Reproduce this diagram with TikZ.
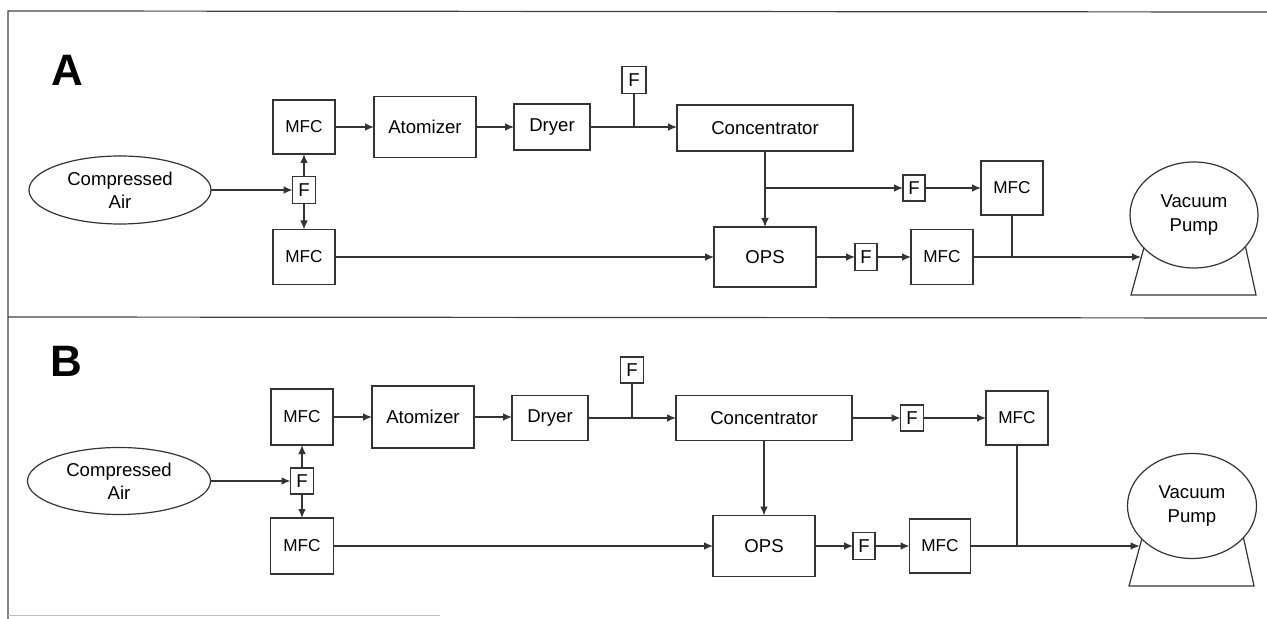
\documentclass[tikz,border=0pt]{standalone}
\usepackage{fontspec}
\setmainfont{Liberation Sans}
\usetikzlibrary{arrows.meta,shapes.geometric}
\begin{document}
\begin{tikzpicture}[x=0.5pt,y=-0.5pt,
  ln/.style={draw=black!80, line width=0.6pt},
  sz/.style 2 args={minimum width={#1*0.5pt}, minimum height={#2*0.5pt}},
  box/.style={ln, rectangle, inner sep=0pt, outer sep=0pt, fill=white, font=\fontsize{9.3}{11}\selectfont},
  mfcbox/.style={box, font=\fontsize{8.6}{10}\selectfont},
  oval/.style={ln, ellipse, inner sep=0pt, outer sep=0pt, fill=white, align=center, font=\fontsize{9.3}{11.6}\selectfont},
  arr/.style={ln, -{Latex[length=4.5pt,width=3.8pt]}},
  conn/.style={ln},
  panellabel/.style={inner sep=0pt, font=\fontsize{22}{22}\selectfont\bfseries},
  frameline/.style={draw=black!75, line width=0.6pt}]
\useasboundingbox (0,0) rectangle (1267,619);
% frame
\draw[frameline] (1267,12) -- (8,11) -- (8,619);
\draw[frameline] (8,317) -- (1267,318);
\draw[draw=black!25, line width=0.5pt] (8,615) -- (440,615);

% ---------------- Panel A ----------------
\node[panellabel] (labA) at (67,70) {A};
\node[oval, sz={182}{68}] (airA) at (120,190) {Compressed\\Air};
\node[box, sz={23}{27}] (fA1) at (304,190) {F};
\node[mfcbox, sz={62}{54}] (mfcA1) at (304,127) {MFC};
\node[mfcbox, sz={62}{55}] (mfcA2) at (304,257) {MFC};
\node[box, sz={102}{61}] (atomA) at (425,127) {Atomizer};
\node[box, sz={76}{46}] (dryerA) at (552,127) {Dryer};
\node[box, sz={24}{27}] (fA2) at (634,80) {F};
\node[box, sz={176}{46}] (concA) at (765,128) {Concentrator};
\node[box, sz={102}{60}] (opsA) at (765,257) {OPS};
\node[box, sz={22}{26}] (fA3) at (914,188) {F};
\node[mfcbox, sz={62}{54}] (mfcA3) at (1012,188) {MFC};
\node[box, sz={22}{27}] (fA4) at (866,257) {F};
\node[mfcbox, sz={62}{55}] (mfcA4) at (942,257) {MFC};
\draw[ln] (1146,240) -- (1131,295) -- (1256,295) -- (1244,240);
\node[oval, sz={128}{106}] (pumpA) at (1194,215) {Vacuum\\Pump};
\coordinate (jA1) at (634,127);
\coordinate (jA2) at (765,188);
\coordinate (jA3) at (1012,257);
\coordinate (pA) at (1141,257);

\draw[arr] (airA.east) -- (fA1.west);
\draw[arr] (fA1.north) -- (mfcA1.south);
\draw[arr] (fA1.south) -- (mfcA2.north);
\draw[arr] (mfcA1.east) -- (atomA.west);
\draw[arr] (atomA.east) -- (dryerA.west);
\draw[arr] (dryerA.east) -- (dryerA.east -| concA.west);
\draw[conn] (fA2.south) -- (jA1);
\draw[arr] (mfcA2.east) -- (opsA.west);
\draw[arr] (concA.south) -- (opsA.north);
\draw[arr] (jA2) -- (fA3.west);
\draw[arr] (fA3.east) -- (mfcA3.west);
\draw[arr] (opsA.east) -- (fA4.west);
\draw[arr] (fA4.east) -- (mfcA4.west);
\draw[arr] (mfcA4.east) -- (pA);
\draw[conn] (mfcA3.south) -- (jA3);

% ---------------- Panel B ----------------
\node[panellabel] (labB) at (66,361) {B};
\node[oval, sz={183}{67}] (airB) at (119,481) {Compressed\\Air};
\node[box, sz={23}{26}] (fB1) at (302,481) {F};
\node[mfcbox, sz={62}{56}] (mfcB1) at (302,417) {MFC};
\node[mfcbox, sz={63}{56}] (mfcB2) at (302,546) {MFC};
\node[box, sz={102}{62}] (atomB) at (423,417) {Atomizer};
\node[box, sz={76}{45}] (dryerB) at (550,418) {Dryer};
\node[box, sz={23}{26}] (fB2) at (632,370) {F};
\node[box, sz={176}{45}] (concB) at (764,418) {Concentrator};
\node[box, sz={102}{61}] (opsB) at (764,546) {OPS};
\node[box, sz={23}{26}] (fB3) at (912,418) {F};
\node[mfcbox, sz={62}{54}] (mfcB3) at (1017,418) {MFC};
\node[box, sz={22}{27}] (fB4) at (864,546) {F};
\node[mfcbox, sz={61}{54}] (mfcB4) at (940,546) {MFC};
\draw[ln] (1144,531) -- (1129,586) -- (1254,586) -- (1242,531);
\node[oval, sz={129}{105}] (pumpB) at (1192,506) {Vacuum\\Pump};
\coordinate (jB1) at (632,418);
\coordinate (jB3) at (1017,546);
\coordinate (pB) at (1139.6,546);

\draw[arr] (airB.east) -- (fB1.west);
\draw[arr] (fB1.north) -- (mfcB1.south);
\draw[arr] (fB1.south) -- (mfcB2.north);
\draw[arr] (mfcB1.east) -- (atomB.west);
\draw[arr] (atomB.east) -- (atomB.east -| dryerB.west);
\draw[arr] (dryerB.east) -- (concB.west);
\draw[conn] (fB2.south) -- (jB1);
\draw[arr] (mfcB2.east) -- (opsB.west);
\draw[arr] (concB.south) -- (opsB.north);
\draw[arr] (concB.east) -- (fB3.west);
\draw[arr] (fB3.east) -- (mfcB3.west);
\draw[arr] (opsB.east) -- (fB4.west);
\draw[arr] (fB4.east) -- (mfcB4.west);
\draw[arr] (mfcB4.east) -- (pB);
\draw[conn] (mfcB3.south) -- (jB3);
\end{tikzpicture}
\end{document}
